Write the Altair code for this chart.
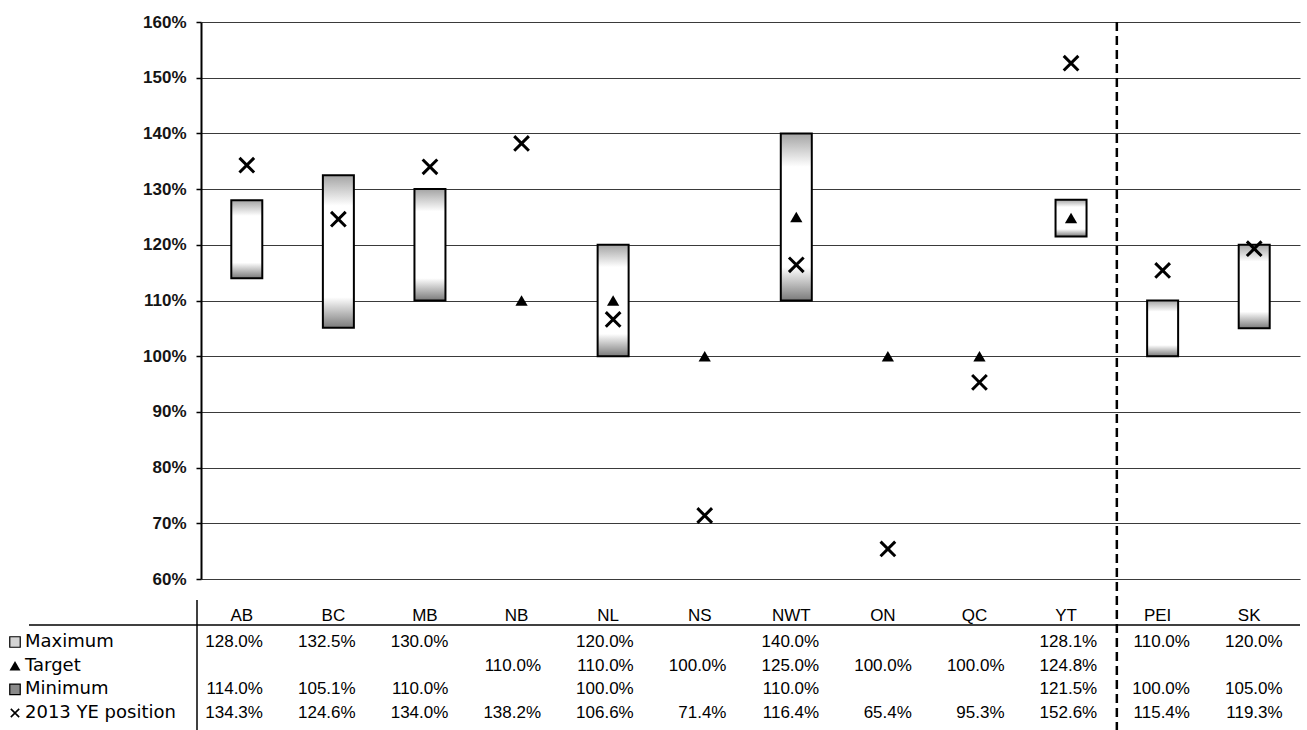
import altair as alt
import pandas as pd

# Jurisdictions, in display order (the last two sit right of the separator)
cats = ["AB", "BC", "MB", "NB", "NL", "NS", "NWT", "ON", "QC", "YT", "PEI", "SK"]

# Range bounds, targets and 2013 year-end positions (percent)
maximum = [128.0, 132.5, 130.0, None, 120.0, None, 140.0, None, None, 128.1, 110.0, 120.0]
target = [None, None, None, 110.0, 110.0, 100.0, 125.0, 100.0, 100.0, 124.8, None, None]
minimum = [114.0, 105.1, 110.0, None, 100.0, None, 110.0, None, None, 121.5, 100.0, 105.0]
ye_2013 = [134.3, 124.6, 134.0, 138.2, 106.6, 71.4, 116.4, 65.4, 95.3, 152.6, 115.4, 119.3]

row_names = ["Maximum", "Target", "Minimum", "2013 YE position"]
y_ticks = [60, 70, 80, 90, 100, 110, 120, 130, 140, 150, 160]

W, H = 1099, 557
FONT = "Liberation Sans"
INK = "#000000"

wide = pd.DataFrame({"cat": cats, "max": maximum, "target": target,
                     "min": minimum, "ye": ye_2013})

series = {"Maximum": maximum, "Target": target, "Minimum": minimum,
          "2013 YE position": ye_2013}
long_rows = []
for name, vals in series.items():
    for c, v in zip(cats, vals):
        if v is not None:
            long_rows.append({"row": name, "cat": c, "v": v})
table_df = pd.DataFrame(long_rows)

x_scale = alt.Scale(type="band", domain=cats, paddingInner=0, paddingOuter=0)
y_scale = alt.Scale(domain=[60, 160], nice=False, zero=False)
x_enc = alt.X("cat:N", scale=x_scale, axis=None)

y_axis = alt.Axis(values=y_ticks, labelExpr="datum.value + '%'", title=None,
                  grid=True, gridColor="#3a3a3a", gridWidth=1,
                  domainColor="black", domainWidth=2, tickColor="black",
                  tickSize=5, tickWidth=1.5, labelFont=FONT, labelFontSize=17,
                  labelFontWeight="bold", labelColor="#151515", labelPadding=10)

box_fill = alt.Gradient(
    gradient="linear", x1=0, x2=0, y1=0, y2=1,
    stops=[alt.GradientStop(offset=0, color="#a4a4a4"),
           alt.GradientStop(offset=0.2, color="#ffffff"),
           alt.GradientStop(offset=0.8, color="#ffffff"),
           alt.GradientStop(offset=1, color="#7a7a7a")])

base = alt.Chart(wide)

boxes = base.transform_filter("isValid(datum.max)").mark_bar(
    width=31, fill=box_fill, stroke="black", strokeWidth=2
).encode(x=x_enc, y=alt.Y("max:Q", scale=y_scale, axis=y_axis), y2="min:Q")

targets = base.transform_filter("isValid(datum.target)").mark_point(
    shape="triangle-up", filled=True, color="black", size=150, opacity=1
).encode(x=x_enc, y=alt.Y("target:Q", scale=y_scale))

cross_path = "M-1,-1L1,1M-1,1L1,-1"
positions = base.mark_point(
    shape=cross_path, filled=False, color="black", strokeWidth=3, size=215, opacity=1
).encode(x=x_enc, y=alt.Y("ye:Q", scale=y_scale))

headers = base.mark_text(
    font=FONT, fontSize=17, color=INK, baseline="middle", dx=-5
).encode(x=x_enc, y=alt.value(594), text="cat:N")

separator = alt.Chart(pd.DataFrame({"cat": ["YT"]})).mark_rule(
    color="black", strokeWidth=2.5, strokeDash=[9, 5]
).encode(x=alt.X("cat:N", scale=x_scale, axis=None, bandPosition=1),
         y=alt.value(0), y2=alt.value(708))

plot = alt.layer(boxes, targets, positions, headers, separator)

# Data table below the plot
one = pd.DataFrame({"k": [0]})
h_line = alt.Chart(one).mark_rule(color="black", strokeWidth=1.5).encode(
    x=alt.value(-172), x2=alt.value(W), y=alt.value(603))
v_line = alt.Chart(one).mark_rule(color="black", strokeWidth=1.5).encode(
    x=alt.value(-4), y=alt.value(578), y2=alt.value(708))

row_y = alt.Y("row:N", scale=alt.Scale(type="point", domain=row_names,
                                       range=[620, 691], padding=0), axis=None)
val_x = alt.X("cat:N", scale=alt.Scale(type="band", domain=cats,
                                       range=[15.6, 1128], paddingInner=0,
                                       paddingOuter=0), axis=None)

values = alt.Chart(table_df).mark_text(
    font=FONT, fontSize=17, color=INK, align="right", baseline="middle"
).encode(x=val_x, y=row_y, text=alt.Text("label:N")).transform_calculate(
    label="format(datum.v, '.1f') + '%'")

legend_df = pd.DataFrame({"row": row_names})
row_labels = alt.Chart(legend_df).mark_text(
    font="DejaVu Sans", fontSize=18, color=INK, align="left", baseline="middle"
).encode(x=alt.value(-176), y=row_y, text="row:N")

key_boxes = alt.Chart(legend_df).transform_filter(
    "datum.row == 'Maximum' || datum.row == 'Minimum'"
).mark_point(shape="square", filled=True, stroke="black", strokeWidth=1.2,
             size=110, opacity=1).encode(
    x=alt.value(-186), y=row_y,
    fill=alt.Fill("row:N", scale=alt.Scale(domain=["Maximum", "Minimum"],
                                           range=["#d4d4d4", "#8a8a8a"]),
                  legend=None))

key_tri = alt.Chart(legend_df).transform_filter("datum.row == 'Target'").mark_point(
    shape="triangle-up", filled=True, color="black", size=120, opacity=1
).encode(x=alt.value(-186), y=row_y)

key_x = alt.Chart(legend_df).transform_filter(
    "datum.row == '2013 YE position'"
).mark_point(shape=cross_path, filled=False, color="black", strokeWidth=1.6,
             size=70, opacity=1).encode(x=alt.value(-186), y=row_y)

table = alt.layer(h_line, v_line, values, row_labels, key_boxes, key_tri, key_x)

chart = alt.layer(plot, table).resolve_scale(
    x="independent", y="independent", fill="independent"
).properties(
    width=W, height=H,
    autosize=alt.AutoSizeParams(type="none"),
    padding={"left": 201, "top": 22, "right": 7, "bottom": 151},
    background="white",
).configure_view(stroke=None)

chart.save("out.html", embed_options={"renderer": "svg", "actions": False})
